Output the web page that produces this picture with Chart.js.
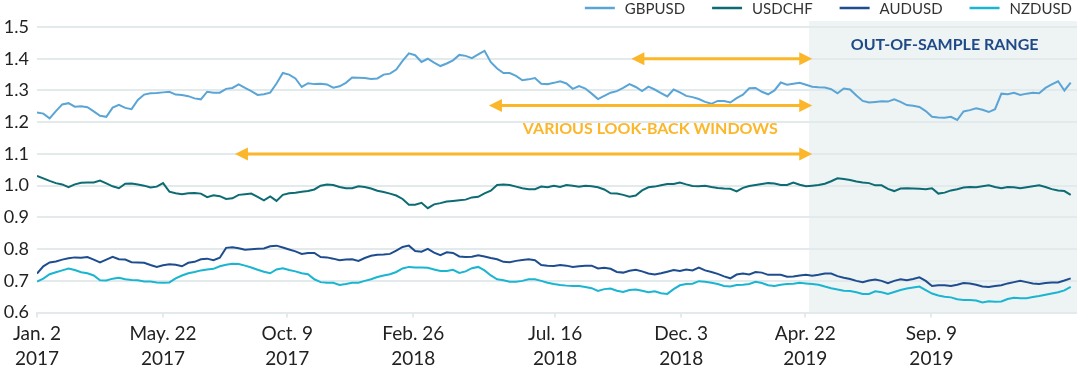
<!doctype html>
<html lang="en">
<head>
  <meta charset="utf-8">
  <title>FX rates and look-back windows</title>
  <style>
    body { margin: 0; background: #fff; }
    #wrap { width: 1077px; height: 384px; position: relative; }
  </style>
</head>
<body>
  <div id="wrap"><canvas id="chart_fx"></canvas></div>

  <script src="https://cdn.jsdelivr.net/npm/chart.js"></script>
  <script>
    // weekly closes, week 0 = Jan. 2 2017
    const series_names = ['GBPUSD', 'USDCHF', 'AUDUSD', 'NZDUSD'];
    const series_colors = ['#5aa5d6', '#0c6b73', '#1e4d8f', '#19b5d1'];

    const gbpusd = [
      1.231, 1.227, 1.212, 1.235, 1.256, 1.26, 1.249, 1.25, 1.247, 1.234,
      1.22, 1.217, 1.246, 1.255, 1.245, 1.241, 1.27, 1.287, 1.291, 1.292,
      1.294, 1.296, 1.287, 1.286, 1.282, 1.275, 1.272, 1.296, 1.293, 1.293,
      1.305, 1.308, 1.319, 1.308, 1.298, 1.286, 1.288, 1.293, 1.322, 1.355,
      1.35, 1.338, 1.311, 1.323, 1.32, 1.321, 1.319, 1.309, 1.313, 1.324,
      1.341, 1.34, 1.339, 1.336, 1.338, 1.35, 1.353, 1.366, 1.393, 1.417,
      1.411, 1.39, 1.4, 1.388, 1.377, 1.385, 1.395, 1.412, 1.409, 1.402,
      1.414, 1.425, 1.389, 1.369, 1.355, 1.355, 1.346, 1.332, 1.335, 1.339,
      1.321, 1.32, 1.324, 1.329, 1.322, 1.305, 1.314, 1.306, 1.29, 1.273,
      1.283, 1.293, 1.298, 1.308, 1.32, 1.311, 1.298, 1.312, 1.303, 1.292,
      1.281, 1.303, 1.294, 1.283, 1.279, 1.273, 1.264, 1.258, 1.267, 1.267,
      1.262, 1.276, 1.287, 1.307, 1.308, 1.296, 1.288, 1.3, 1.325, 1.318,
      1.321, 1.324, 1.318, 1.312, 1.31, 1.309, 1.304, 1.291, 1.306, 1.303,
      1.284, 1.267, 1.262, 1.264, 1.266, 1.265, 1.272, 1.264, 1.254, 1.252,
      1.248, 1.235, 1.217, 1.215, 1.214, 1.217, 1.207, 1.234, 1.238, 1.244,
      1.239, 1.232, 1.241, 1.29, 1.288, 1.293, 1.286, 1.29, 1.293, 1.291,
      1.308, 1.319, 1.329, 1.3, 1.325
    ];

    const usdchf = [
      1.031, 1.023, 1.015, 1.008, 1.004, 0.995, 1.004, 1.009, 1.01, 1.01,
      1.016, 1.007, 0.998, 0.992, 1.006, 1.007, 1.004, 1.0, 0.994, 0.997,
      1.008, 0.981, 0.976, 0.973, 0.976, 0.977, 0.975, 0.964, 0.97, 0.967,
      0.958, 0.96, 0.971, 0.973, 0.975, 0.965, 0.954, 0.966, 0.952, 0.971,
      0.976, 0.978, 0.981, 0.983, 0.988, 1.0, 1.004, 1.002, 0.996, 0.992,
      0.992, 0.998, 0.996, 0.991, 0.984, 0.98, 0.975, 0.969, 0.958, 0.94,
      0.94, 0.946, 0.929, 0.941, 0.945, 0.95, 0.952, 0.954, 0.956, 0.963,
      0.965, 0.976, 0.984, 1.002, 1.004, 1.002, 0.997, 0.992, 0.989, 0.989,
      0.997, 0.995, 1.0, 0.996, 1.002, 1.0, 0.997, 1.0, 0.998, 0.995,
      0.988, 0.976, 0.975, 0.971, 0.965, 0.969, 0.985, 0.995, 0.997, 1.001,
      1.005, 1.005, 1.01, 1.004, 0.999, 0.998, 1.0, 0.996, 0.993, 0.991,
      0.99, 0.982, 0.993, 0.999, 1.002, 1.005, 1.008, 1.007, 1.002, 1.002,
      1.01, 1.003, 0.998, 1.0, 1.002, 1.006, 1.014, 1.023, 1.021, 1.018,
      1.013, 1.01, 1.008, 1.001, 1.001, 0.99, 0.983, 0.991, 0.992, 0.991,
      0.99, 0.989, 0.992, 0.975, 0.978, 0.985, 0.989, 0.994, 0.996, 0.995,
      0.998, 1.001, 0.996, 0.992, 0.996, 0.995, 0.992, 0.995, 0.998, 1.001,
      0.996, 0.989, 0.985, 0.983, 0.971
    ];

    const audusd = [
      0.723, 0.746, 0.758, 0.761, 0.767, 0.771, 0.774, 0.773, 0.775, 0.767,
      0.758, 0.767, 0.776, 0.768, 0.767, 0.759, 0.758, 0.757, 0.75, 0.744,
      0.749, 0.752, 0.751, 0.746, 0.757, 0.76, 0.768, 0.77, 0.765, 0.773,
      0.804, 0.806, 0.803, 0.798, 0.8, 0.801, 0.802, 0.809, 0.811, 0.805,
      0.799, 0.793, 0.785, 0.788, 0.788, 0.775, 0.774, 0.77, 0.765, 0.767,
      0.768, 0.763, 0.772, 0.779, 0.782, 0.783, 0.785, 0.795, 0.807, 0.811,
      0.794, 0.792, 0.801, 0.789, 0.781, 0.79, 0.788, 0.777, 0.775, 0.776,
      0.781, 0.777, 0.772, 0.768, 0.76, 0.759, 0.763, 0.766, 0.768, 0.765,
      0.75, 0.748, 0.747, 0.75, 0.748, 0.744, 0.746, 0.748, 0.748, 0.739,
      0.741, 0.738, 0.728, 0.726, 0.732, 0.735, 0.73, 0.723, 0.72, 0.724,
      0.729, 0.734, 0.731, 0.736, 0.733, 0.742, 0.733, 0.728, 0.722, 0.714,
      0.708, 0.72, 0.723, 0.72, 0.728, 0.726, 0.719, 0.719, 0.719, 0.713,
      0.714, 0.717, 0.719, 0.716, 0.719, 0.723, 0.723, 0.715, 0.71, 0.706,
      0.7, 0.696, 0.701, 0.704, 0.7, 0.693, 0.7, 0.705, 0.702, 0.706,
      0.711, 0.7, 0.684, 0.686, 0.686, 0.684, 0.688, 0.693, 0.692, 0.688,
      0.682, 0.681, 0.684, 0.686, 0.692, 0.696, 0.7, 0.696, 0.692, 0.69,
      0.693, 0.695, 0.695, 0.701, 0.708
    ];

    const nzdusd = [
      0.698, 0.707, 0.721, 0.727, 0.733, 0.739, 0.734, 0.727, 0.724, 0.717,
      0.702, 0.701, 0.707, 0.71, 0.705, 0.703, 0.702, 0.698, 0.698, 0.695,
      0.694, 0.695, 0.708, 0.717, 0.724, 0.728, 0.733, 0.736, 0.738, 0.746,
      0.751, 0.754, 0.753, 0.748, 0.742, 0.735, 0.729, 0.724, 0.736, 0.74,
      0.734, 0.73, 0.724, 0.721, 0.705, 0.696, 0.694, 0.694, 0.687, 0.69,
      0.694, 0.694, 0.7, 0.705, 0.712, 0.717, 0.721, 0.728, 0.739, 0.744,
      0.742, 0.742, 0.741, 0.736, 0.731, 0.731, 0.735, 0.725, 0.73, 0.74,
      0.744, 0.733, 0.717, 0.705, 0.702, 0.697, 0.697, 0.7, 0.705, 0.705,
      0.7, 0.694, 0.69, 0.687, 0.685, 0.684, 0.684, 0.681, 0.677, 0.668,
      0.674, 0.676, 0.669, 0.665, 0.671, 0.673, 0.669, 0.664, 0.667, 0.661,
      0.659, 0.674, 0.686, 0.69, 0.691, 0.699, 0.697, 0.694, 0.69, 0.684,
      0.682, 0.687, 0.688, 0.69, 0.697, 0.693, 0.686, 0.684, 0.688, 0.69,
      0.691, 0.694, 0.692, 0.69, 0.688, 0.682, 0.677, 0.673, 0.669, 0.668,
      0.664, 0.659, 0.659, 0.667, 0.664, 0.659, 0.665, 0.671, 0.676, 0.679,
      0.682, 0.671, 0.66, 0.654, 0.65, 0.648, 0.642, 0.64, 0.64, 0.638,
      0.632, 0.636, 0.634, 0.635, 0.643, 0.647, 0.645, 0.645, 0.649, 0.652,
      0.656, 0.66, 0.664, 0.67, 0.681
    ];

    const week_index = gbpusd.map((v, i) => i);

    // x-axis labels and where they sit (in weeks)
    const tick_weeks = [0, 20, 39.7, 59.7, 82.2, 102.2, 121.9, 141.9];
    const tick_labels = [
      ['Jan. 2', '2017'], ['May. 22', '2017'], ['Oct. 9', '2017'], ['Feb. 26', '2018'],
      ['Jul. 16', '2018'], ['Dec. 3', '2018'], ['Apr. 22', '2019'], ['Sep. 9', '2019']
    ];

    // annotations
    const out_of_sample_start = 122.5;
    const window_end = 123.0;
    const window_starts = [94.3, 71.7, 31.4];
    const window_levels = [1.4, 1.253, 1.1];

    const amber = '#fcb629';
    const grid_color = '#e3eaec';
    const font_family = "Lato, 'Open Sans', sans-serif";

    function drawArrow(ctx, x1, x2, y) {
      const head = 13, half = 6.5;
      ctx.beginPath();
      ctx.moveTo(x1 + head - 2, y);
      ctx.lineTo(x2 - head + 2, y);
      ctx.stroke();
      ctx.beginPath();
      ctx.moveTo(x1, y);
      ctx.lineTo(x1 + head, y - half);
      ctx.lineTo(x1 + head, y + half);
      ctx.closePath();
      ctx.fill();
      ctx.beginPath();
      ctx.moveTo(x2, y);
      ctx.lineTo(x2 - head, y - half);
      ctx.lineTo(x2 - head, y + half);
      ctx.closePath();
      ctx.fill();
    }

    const overlayPlugin = {
      id: 'overlay',
      beforeDraw(chart) {
        const {ctx, chartArea, scales: {x}} = chart;
        const left = x.getPixelForValue(out_of_sample_start);
        ctx.save();
        ctx.fillStyle = '#eef3f4';
        ctx.fillRect(left, chartArea.top - 6, chart.width - left, chartArea.bottom - chartArea.top + 6);
        ctx.restore();
      },
      afterDatasetsDraw(chart) {
        const {ctx, scales: {x, y}} = chart;
        ctx.save();
        ctx.strokeStyle = amber;
        ctx.fillStyle = amber;
        ctx.lineWidth = 3;
        for (var i = 0; i < window_starts.length; i++) {
          drawArrow(ctx, x.getPixelForValue(window_starts[i]), x.getPixelForValue(window_end), y.getPixelForValue(window_levels[i]));
        }

        ctx.textAlign = 'center';
        ctx.textBaseline = 'middle';
        ctx.font = 'bold 16px ' + font_family;
        ctx.fillText('VARIOUS LOOK-BACK WINDOWS', x.getPixelForValue(97.3), y.getPixelForValue(1.179));

        ctx.fillStyle = '#1f4a87';
        ctx.fillText('OUT-OF-SAMPLE RANGE', x.getPixelForValue(144), y.getPixelForValue(1.444));
        ctx.restore();
      },
      afterDraw(chart) {
        // legend, right aligned at the top
        const ctx = chart.ctx;
        ctx.save();
        ctx.font = '15px ' + font_family;
        ctx.textBaseline = 'middle';
        ctx.textAlign = 'left';
        var right = 1072, cy = 9;
        for (var i = series_names.length - 1; i >= 0; i--) {
          var w = ctx.measureText(series_names[i]).width;
          var textX = right - w;
          ctx.fillStyle = '#333';
          ctx.fillText(series_names[i], textX, cy);
          ctx.strokeStyle = series_colors[i];
          ctx.lineWidth = 2.5;
          ctx.beginPath();
          ctx.moveTo(textX - 40, cy - 1);
          ctx.lineTo(textX - 10, cy - 1);
          ctx.stroke();
          right = textX - 40 - 27;
        }
        ctx.restore();
      }
    };

    const series_values = [gbpusd, usdchf, audusd, nzdusd];

    const fx_data = {
      datasets: series_names.map((name, i) => ({
        label: name,
        data: series_values[i].map((v, j) => ({x: week_index[j], y: v})),
        borderColor: series_colors[i],
        borderWidth: 2,
        pointRadius: 0,
        tension: 0
      }))
    };

    const config_fx = {
      type: 'line',
      data: fx_data,
      options: {
        responsive: true,
        maintainAspectRatio: false,
        animation: false,
        layout: {
          padding: {top: 27, right: 0, bottom: 9, left: 0}
        },
        scales: {
          x: {
            type: 'linear',
            min: 0,
            max: 165,
            grid: {
              color: grid_color,
              lineWidth: 2,
              drawOnChartArea: false,
              tickLength: 5
            },
            border: { color: grid_color, width: 2 },
            afterBuildTicks: function(scale) {
              scale.ticks = tick_weeks.map(v => ({value: v}));
            },
            ticks: {
              autoSkip: false,
              maxRotation: 0,
              padding: 4,
              color: '#222',
              font: { family: font_family, size: 19, lineHeight: 1.3 },
              callback: function(value, index) { return tick_labels[index]; }
            }
          },
          y: {
            min: 0.6,
            max: 1.5,
            afterFit: function(scale) { scale.width = 37; },
            grid: { color: grid_color, lineWidth: 2, drawTicks: false },
            border: { display: false },
            ticks: {
              stepSize: 0.1,
              padding: 8,
              color: '#222',
              font: { family: font_family, size: 18 },
              callback: function(value) { return value.toFixed(1); }
            }
          }
        },
        plugins: {
          legend: { display: false },
          tooltip: { enabled: false }
        }
      },
      plugins: [overlayPlugin]
    };

    const chart_fx = new Chart(document.getElementById('chart_fx'), config_fx);
  </script>
</body>
</html>
